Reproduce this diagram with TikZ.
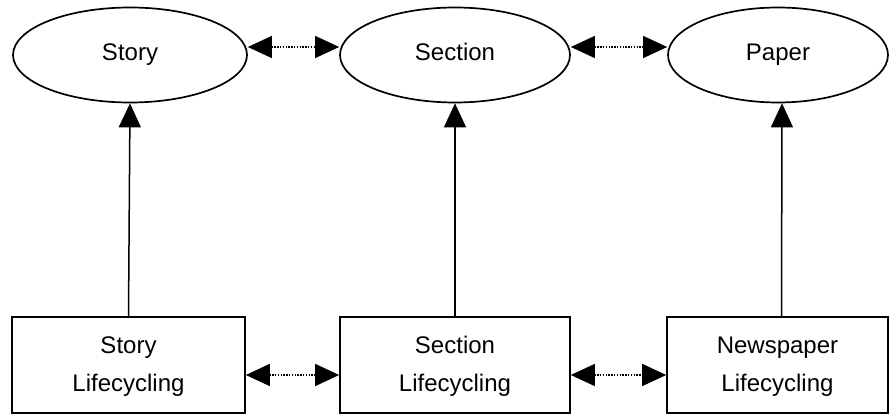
\documentclass[tikz,border=0pt]{standalone}
\usepackage{fontspec}
\setmainfont{Liberation Sans}
\usetikzlibrary{arrows.meta,shapes.geometric}
\begin{document}
\begin{tikzpicture}[x=1pt,y=1pt,
  every node/.style={font=\fontsize{24}{38}\selectfont},
  level/.style={ellipse,draw,line width=1.7pt,minimum height=95pt,inner sep=0pt,
    text height=17pt,text depth=5pt},
  cycle/.style={rectangle,draw,line width=1.6pt,minimum height=96pt,align=center,inner sep=0pt},
  tip/.style={Triangle[length=24pt,width=22pt]},
  up/.style={line width=1.5pt,-{Triangle[length=24pt,width=22pt]}},
  link/.style={line width=1.3pt,dash pattern=on 1.4pt off 1.4pt,
    {Triangle[length=24pt,width=22pt]}-{Triangle[length=24pt,width=22pt]}}]
\useasboundingbox (0,0) rectangle (889,415);
% upper row: the units
\node[level,minimum width=234pt] (story)   at (130,360) {Story};
\node[level,minimum width=230pt] (section) at (455,360) {Section};
\node[level,minimum width=220pt] (paper)   at (778,360) {Paper};
% lower row: the lifecycling steps
\node[cycle,minimum width=233pt] (storyL)   at (128.5,50) {Story\strut\\Lifecycling\strut};
\node[cycle,minimum width=230pt] (sectionL) at (455,50) {Section\strut\\Lifecycling\strut};
\node[cycle,minimum width=221pt] (paperL)   at (777.5,50) {Newspaper\strut\\Lifecycling\strut};
% vertical links
\draw[up] (storyL.north) -- (story.south);
\draw[up] (sectionL.north) -- (section.south);
\draw[up] ([xshift=4pt]paperL.north) -- ([xshift=4pt]paper.south);
% horizontal dotted links
\draw[link] ([yshift=8pt]story.east) -- ([yshift=8pt]section.west);
\draw[link] ([yshift=8pt]section.east) -- ([yshift=8pt]paper.west);
\draw[link] ([yshift=-10pt]storyL.east) -- ([yshift=-10pt]sectionL.west);
\draw[link] ([yshift=-10pt]sectionL.east) -- ([yshift=-10pt]paperL.west);
\end{tikzpicture}
\end{document}
